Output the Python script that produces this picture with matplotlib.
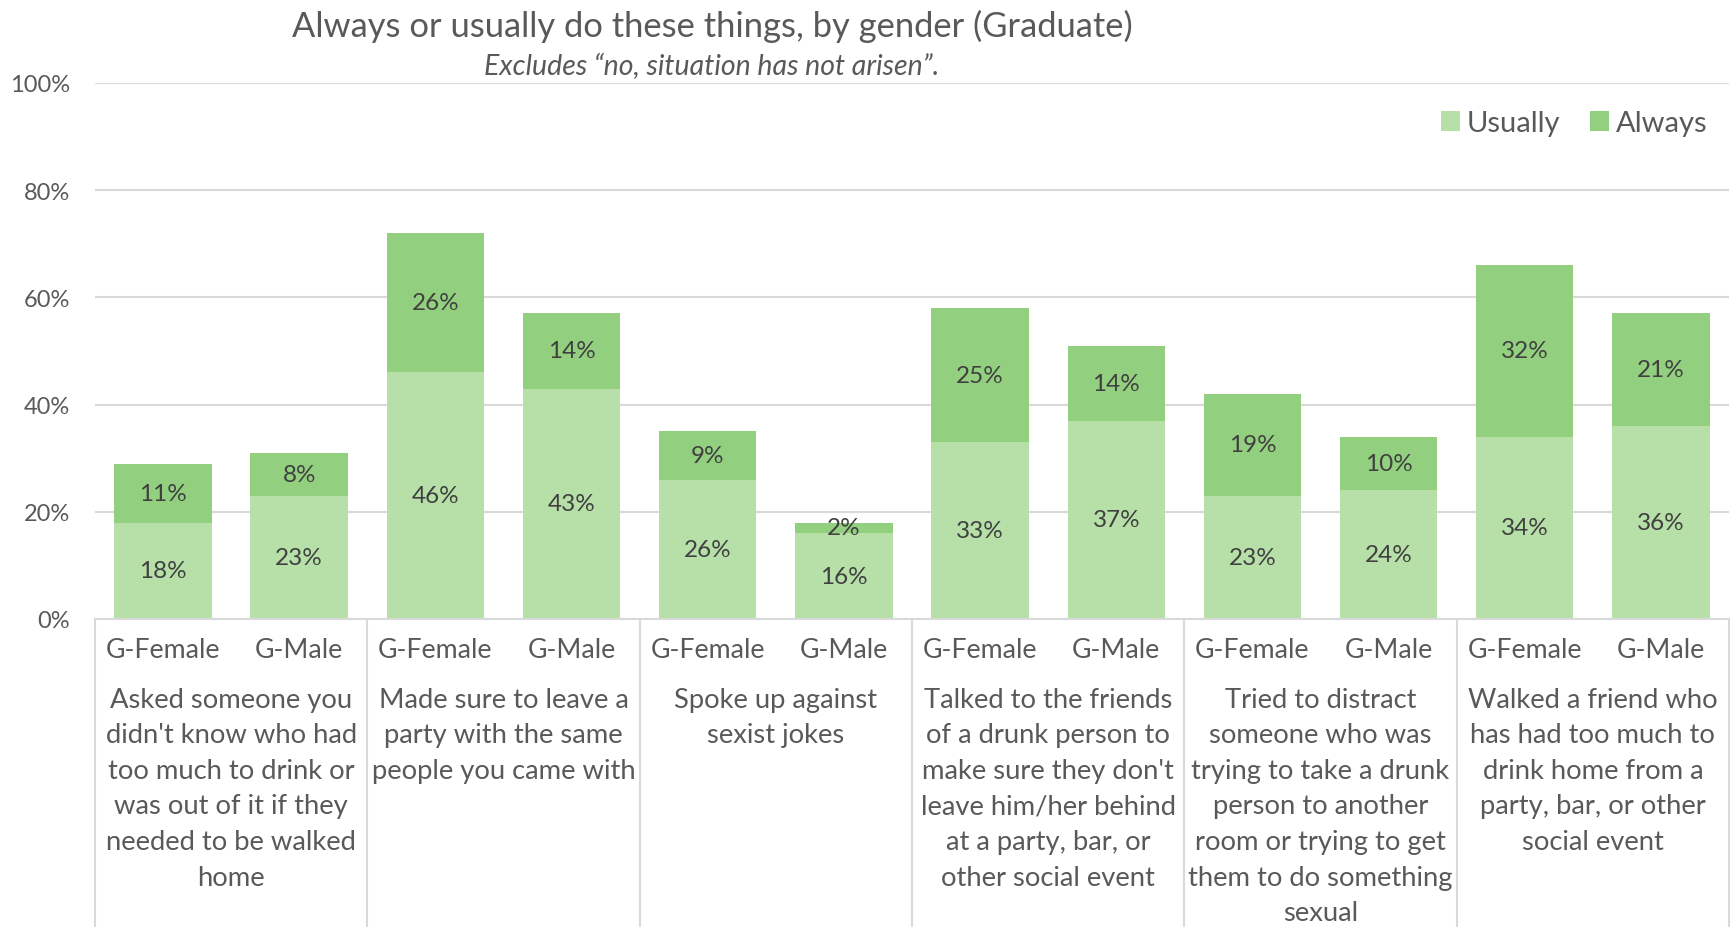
import matplotlib.pyplot as plt
import numpy as np

plt.rcParams['font.family'] = ['Lato', 'DejaVu Sans']

# =============================================================================
# DATA
# =============================================================================
genders = ['G-Female', 'G-Male'] * 6
usually = [18, 23, 46, 43, 26, 16, 33, 37, 23, 24, 34, 36]
always = [11, 8, 26, 14, 9, 2, 25, 14, 19, 10, 32, 21]
groups = [
    "Asked someone you\ndidn't know who had\ntoo much to drink or\nwas out of it if they\nneeded to be walked\nhome",
    "Made sure to leave a\nparty with the same\npeople you came with",
    "Spoke up against\nsexist jokes",
    "Talked to the friends\nof a drunk person to\nmake sure they don't\nleave him/her behind\nat a party, bar, or\nother social event",
    "Tried to distract\nsomeone who was\ntrying to take a drunk\nperson to another\nroom or trying to get\nthem to do something\nsexual",
    "Walked a friend who\nhas had too much to\ndrink home from a\nparty, bar, or other\nsocial event",
]
y_ticks = [0, 20, 40, 60, 80, 100]

C_USUALLY = '#B6E0A8'
C_ALWAYS = '#92D07F'
C_GRID = '#D9D9D9'
C_TEXT = '#595959'
C_LABEL = '#404040'

# =============================================================================
# PLOT
# =============================================================================
fig = plt.figure(figsize=(17.32, 9.28), dpi=100)
ax = fig.add_axes([0.0548, 0.3319, 0.9435, 0.5776])

x = np.arange(len(usually))
b1 = ax.bar(x, usually, width=0.715, color=C_USUALLY, label='Usually', zorder=2)
b2 = ax.bar(x, always, width=0.715, bottom=usually, color=C_ALWAYS, label='Always', zorder=2)
ax.bar_label(b1, labels=[f'{v}%' for v in usually], label_type='center',
             fontsize=17.5, color=C_LABEL)
ax.bar_label(b2, labels=[f'{v}%' for v in always], label_type='center',
             fontsize=17.5, color=C_LABEL)

ax.set_xlim(-0.5, len(usually) - 0.5)
ax.set_ylim(0, 100)
ax.set_yticks(y_ticks)
ax.set_yticklabels([f'{v}%' for v in y_ticks], fontsize=17, color=C_TEXT)
ax.yaxis.grid(True, color=C_GRID, linewidth=1.5, zorder=0)
ax.tick_params(axis='y', length=0, pad=18)

ax.set_xticks(x)
ax.set_xticklabels(genders, fontsize=19.3, color=C_TEXT)
ax.tick_params(axis='x', length=0, pad=13)

for side in ['top', 'right', 'left']:
    ax.spines[side].set_visible(False)
ax.spines['bottom'].set_color(C_GRID)
ax.spines['bottom'].set_linewidth(1.5)

# group separators and multi-line category labels
trans = ax.get_xaxis_transform()
for b in np.arange(-0.5, len(usually), 2):
    ax.plot([b, b], [0, -0.7], transform=trans, color=C_GRID, linewidth=1.5,
            clip_on=False, zorder=1)
for i, g in enumerate(groups):
    ax.text(2 * i + 0.5, -0.126, g, transform=trans, ha='center', va='top',
            fontsize=19.7, color=C_TEXT, linespacing=1.53)

ax.legend(ncol=2, loc='center right', bbox_to_anchor=(1.001, 0.866),
          bbox_transform=fig.transFigure, frameon=False, fontsize=21,
          labelcolor=C_TEXT, handlelength=0.65, handleheight=0.65,
          handletextpad=0.25, columnspacing=1.0)

fig.text(0.411, 0.972, 'Always or usually do these things, by gender (Graduate)',
         ha='center', va='center', fontsize=24.8, color=C_TEXT)
fig.text(0.411, 0.928, 'Excludes \u201cno, situation has not arisen\u201d.',
         ha='center', va='center', fontsize=20.5, color=C_TEXT, style='italic')

fig.savefig('out.png', dpi=100)
